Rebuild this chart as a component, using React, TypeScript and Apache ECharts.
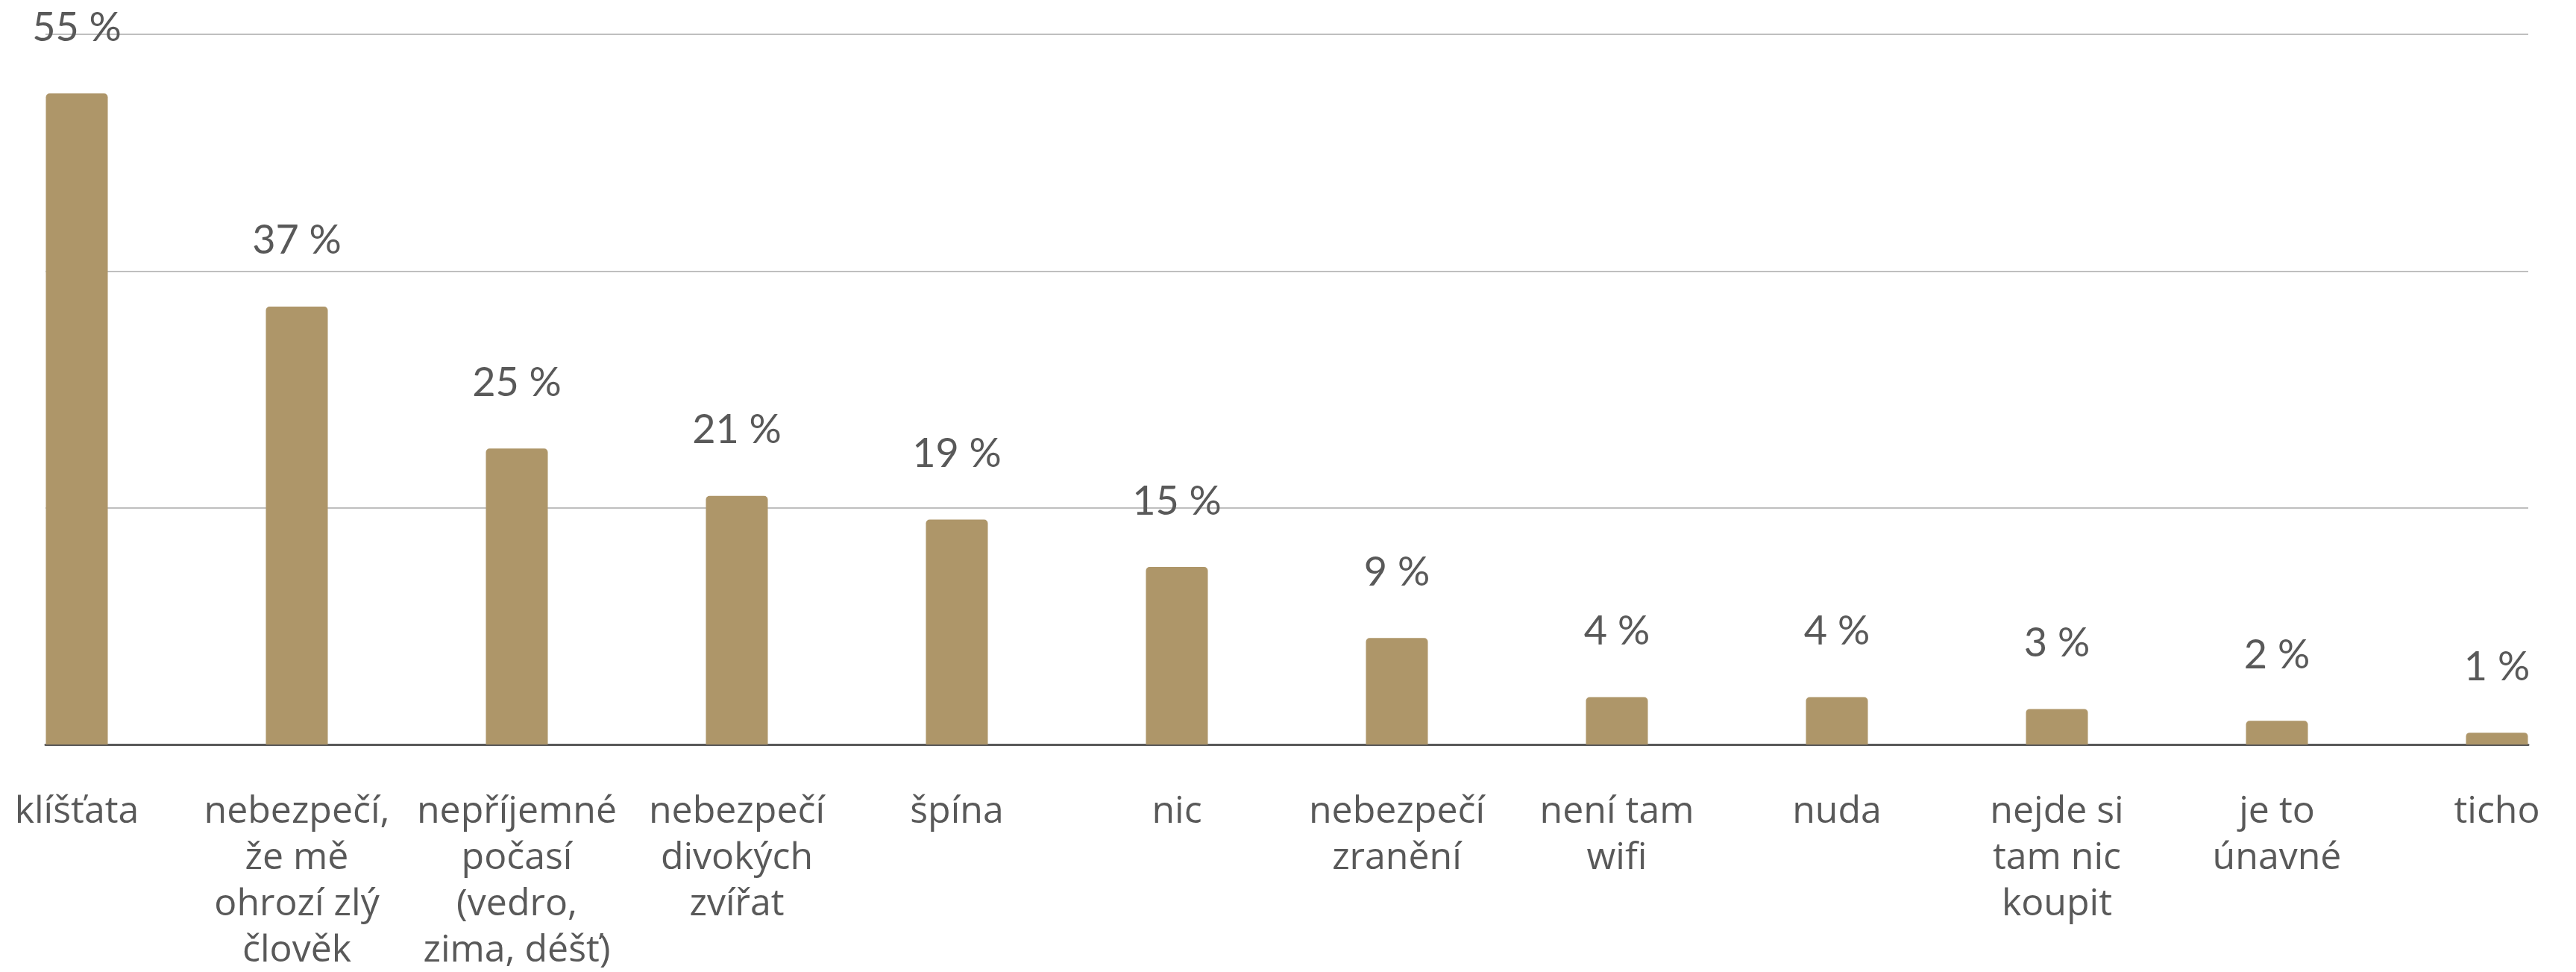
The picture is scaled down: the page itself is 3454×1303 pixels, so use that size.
import React, { useEffect, useRef } from "react";
import * as echarts from "echarts";

const categories: string[] = [
  "klíšťata",
  "nebezpečí,\nže mě\nohrozí zlý\nčlověk",
  "nepříjemné\npočasí\n(vedro,\nzima, déšť)",
  "nebezpečí\ndivokých\nzvířat",
  "špína",
  "nic",
  "nebezpečí\nzranění",
  "není tam\nwifi",
  "nuda",
  "nejde si\ntam nic\nkoupit",
  "je to\núnavné",
  "ticho",
];

const values: number[] = [55, 37, 25, 21, 19, 15, 9, 4, 4, 3, 2, 1];

const yMin = 0;
const yMax = 60;
const yInterval = 20;

const VAL_FONT = "Lato, 'Noto Sans', sans-serif";
const CAT_FONT = "'Open Sans', 'Noto Sans', sans-serif";
const TEXT = "#595959";
const BAR = "#AE9669";

export default function App() {
  const ref = useRef<HTMLDivElement>(null);

  useEffect(() => {
    document.body.style.margin = "0";
    if (!ref.current) return;
    const chart = echarts.init(ref.current, undefined, { renderer: "svg" });
    const top = 46;
    const bottom = 1303 - 998;
    chart.setOption({
      animation: false,
      backgroundColor: "#ffffff",
      textStyle: { fontFamily: VAL_FONT },
      grid: [
        { left: 61, right: 64, top, bottom, containLabel: false },
        { left: 103, right: 106, top, bottom, containLabel: false },
      ],
      xAxis: [
        {
          gridIndex: 0,
          type: "value",
          min: 0,
          max: 1,
          axisLine: { show: true, onZero: false, lineStyle: { color: TEXT, width: 3 } },
          axisTick: { show: false },
          axisLabel: { show: false },
          splitLine: { show: false },
        },
        {
          gridIndex: 1,
          type: "category",
          data: categories,
          boundaryGap: false,
          axisLine: { show: false },
          axisTick: { show: false },
          splitLine: { show: false },
          axisLabel: {
            interval: 0,
            margin: 55,
            color: TEXT,
            fontSize: 50,
            lineHeight: 62,
            fontFamily: CAT_FONT,
            align: "center",
            verticalAlign: "top",
          },
        },
      ],
      yAxis: [
        {
          gridIndex: 0,
          type: "value",
          min: yMin,
          max: yMax,
          interval: yInterval,
          axisLine: { show: false },
          axisTick: { show: false },
          axisLabel: { show: false },
          splitLine: { show: true, lineStyle: { color: "#BFBFBF", width: 2 } },
        },
        {
          gridIndex: 1,
          type: "value",
          min: yMin,
          max: yMax,
          interval: yInterval,
          show: false,
          splitLine: { show: false },
        },
      ],
      series: [
        {
          type: "bar",
          xAxisIndex: 1,
          yAxisIndex: 1,
          data: values,
          barWidth: 83,
          itemStyle: { color: BAR, borderRadius: [5, 5, 0, 0] },
          label: {
            show: true,
            position: "top",
            distance: 64,
            formatter: (p: any) => `${p.value} %`,
            color: TEXT,
            fontSize: 54,
            lineHeight: 54,
            fontFamily: VAL_FONT,
          },
          z: 3,
        },
      ],
    });
    return () => chart.dispose();
  }, []);

  return <div ref={ref} style={{ width: 3454, height: 1303 }} />;
}
